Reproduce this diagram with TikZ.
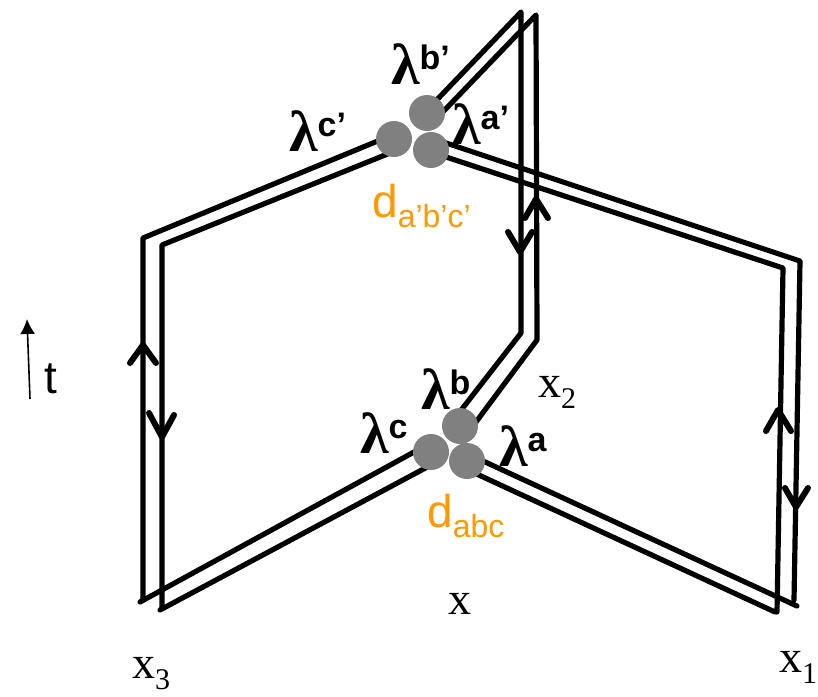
\documentclass[tikz,border=0pt]{standalone}
\usepackage{fontspec}
\usetikzlibrary{arrows.meta}
\setmainfont{Liberation Serif}
\setsansfont{Liberation Sans}
\definecolor{vertexgray}{RGB}{128,128,128}
\definecolor{labelorange}{RGB}{255,153,0}
\newcommand{\lamsup}[1]{{\fontsize{58}{62}\selectfont\bfseries λ}\raisebox{15pt}{\fontsize{34}{36}\selectfont\sffamily\bfseries #1}}
\newcommand{\dlabel}[1]{{\fontsize{46}{50}\selectfont d}\raisebox{-10pt}{\fontsize{32}{36}\selectfont #1}}
\newcommand{\xlabel}[1]{{\fontsize{46}{50}\selectfont x}\raisebox{-11pt}{\fontsize{30}{32}\selectfont #1}}
\tikzset{
  wire/.style={line width=5.2pt, line cap=round, line join=round},
  chevron/.style={wire, line width=6pt},
  vertex/.style={circle, fill=vertexgray, minimum size=36pt, inner sep=0pt},
  lam/.style={inner sep=0pt, anchor=base west},
  dlab/.style={inner sep=0pt, anchor=base west, text=labelorange, font=\sffamily},
  xlab/.style={inner sep=0pt, anchor=base west}
}
\begin{document}
\begin{tikzpicture}[x=1pt, y=-1pt]
  \useasboundingbox (0,0) rectangle (818,696);
  % Corners
  \coordinate (topa) at (521,12);
  \coordinate (topb) at (536,15);
  \coordinate (benda) at (521,333);
  \coordinate (bendb) at (537,340);
  \coordinate (lefta) at (143,238);
  \coordinate (leftb) at (162,245);
  \coordinate (lowa) at (143,600);
  \coordinate (lowb) at (162,608);
  \coordinate (enda) at (140,602);
  \coordinate (endb) at (160,610);
  \coordinate (righta) at (800,261);
  \coordinate (rightb) at (783,268);
  \coordinate (rlowa) at (794,600);
  \coordinate (rlowb) at (777,612);
  \coordinate (renda) at (797,606);
  \coordinate (rendb) at (775,612);
  % Lower vertex
  \coordinate (vb) at (460,426);
  \coordinate (vc) at (431,452);
  \coordinate (va) at (467,461);
  % Upper vertex
  \coordinate (ub) at (427,113);
  \coordinate (uc) at (394,139);
  \coordinate (ua) at (431,150);
  % Line ends under the vertices
  \coordinate (ubone) at (430,107);
  \coordinate (ubtwo) at (438,117);
  \coordinate (ucone) at (385,138);
  \coordinate (uctwo) at (390,153);
  \coordinate (uaone) at (440,141);
  \coordinate (uatwo) at (440,155);
  \coordinate (vbone) at (455,418);
  \coordinate (vbtwo) at (470,430);
  \coordinate (vcone) at (425,446);
  \coordinate (vctwo) at (431,465);
  \coordinate (vaone) at (470,455);
  \coordinate (vatwo) at (468,470);
  % Double lines
  \draw[wire] (ubone) -- (topa) -- (benda) -- (vbone);
  \draw[wire] (ubtwo) -- (topb) -- (bendb) -- (vbtwo);
  \draw[wire] (ucone) -- (lefta) -- (lowa);
  \draw[wire] (enda) -- (vcone);
  \draw[wire] (uctwo) -- (leftb) -- (lowb);
  \draw[wire] (endb) -- (vctwo);
  \draw[wire] (uaone) -- (righta) -- (rlowa);
  \draw[wire] (uatwo) -- (rightb) -- (rlowb);
  \draw[wire] (renda) -- (vaone);
  \draw[wire] (rendb) -- (vatwo);
  % Orientation marks
  \draw[chevron] (130,363) -- (143,345) -- (156,363);
  \draw[chevron] (149,413) -- (162,437) -- (174,415);
  \draw[chevron] (766,431) -- (778,410) -- (791,431);
  \draw[chevron] (785,488) -- (796,507) -- (808,488);
  \draw[chevron] (525,218) -- (536,199) -- (548,218);
  \draw[chevron] (508,232) -- (520,252) -- (532,232);
  % Vertices
  \node[vertex] (nb) at (vb) {};
  \node[vertex] (nc) at (vc) {};
  \node[vertex] (na) at (va) {};
  \node[vertex] (mb) at (ub) {};
  \node[vertex] (mc) at (uc) {};
  \node[vertex] (ma) at (ua) {};
  % Labels
  \node[lam] (lbp) at (391,84) {\lamsup{b’}};
  \node[lam] (lcp) at (289,151) {\lamsup{c’}};
  \node[lam] (lap) at (452,144) {\lamsup{a’}};
  \node[lam] (lb) at (421,409) {\lamsup{b}};
  \node[lam] (lc) at (360,453) {\lamsup{c}};
  \node[lam] (la) at (499,466) {\lamsup{a}};
  \node[dlab] (dup) at (372,217) {\dlabel{a’b’c’}};
  \node[dlab] (dlow) at (427,527) {\dlabel{abc}};
  \node[xlab] (xtwo) at (538,397) {\xlabel{2}};
  \node[xlab] (xone) at (779,672) {\xlabel{1}};
  \node[xlab] (xthree) at (132,678) {\xlabel{3}};
  \node[xlab] (xmid) at (448,614) {{\fontsize{46}{50}\selectfont x}};
  % Time
  \coordinate (tfoot) at (30,399);
  \coordinate (thead) at (27,319);
  \draw[line width=1.6pt, -{Latex[length=15pt,width=15pt]}] (tfoot) -- (thead);
  \node[lam, font=\sffamily\fontsize{46}{50}\selectfont] (tlab) at (44,393) {t};
\end{tikzpicture}
\end{document}
